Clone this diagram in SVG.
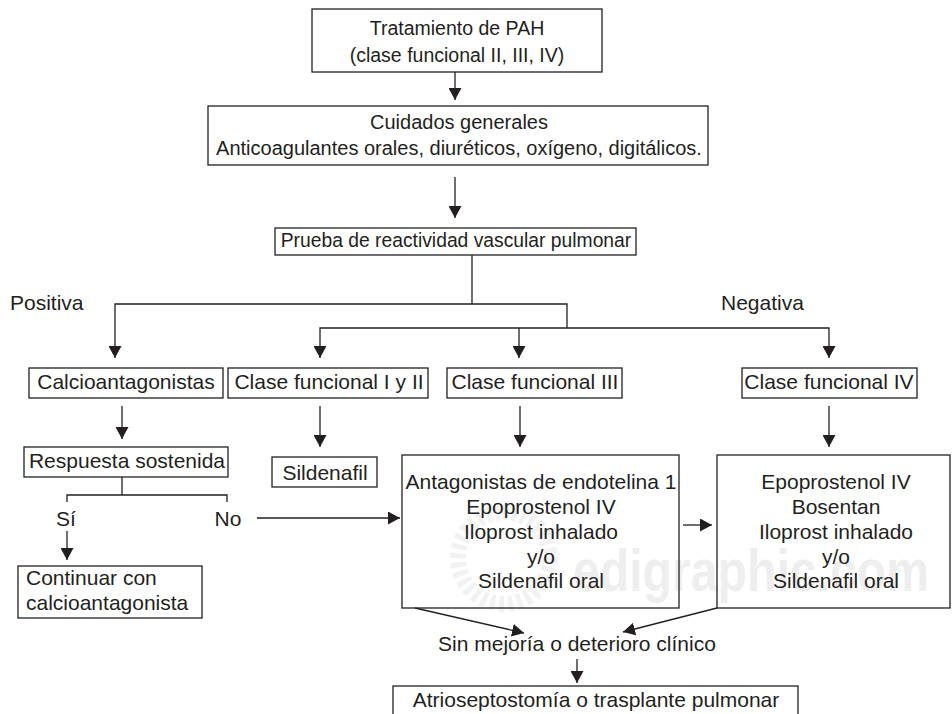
<svg xmlns="http://www.w3.org/2000/svg" width="952" height="714" viewBox="0 0 952 714">
<style>
text{font-family:"Liberation Sans",Arial,sans-serif;font-size:21px;fill:#231f20}
.c{text-anchor:middle}
.box{fill:none;stroke:#231f20;stroke-width:1.3}
.ln{fill:none;stroke:#231f20;stroke-width:1.3}
.wm{font-size:60px;font-weight:bold;fill:#eeeeee}
</style>
<defs>
<marker id="ah" markerUnits="userSpaceOnUse" markerWidth="13" markerHeight="13" refX="12" refY="6.5" orient="auto">
<path d="M0,0 L12,6.5 L0,13 z" fill="#231f20"/>
</marker>
</defs>
<rect x="0" y="0" width="952" height="714" fill="#fff"/>
<g id="watermark">
<circle cx="504" cy="558" r="46" fill="none" stroke="#f2f2f2" stroke-width="16" stroke-dasharray="5 4"/>
<text class="wm" x="573" y="591" textLength="356" lengthAdjust="spacingAndGlyphs">edigraphic.com</text>
</g>
<g id="connectors">
<path class="ln" d="M455,72 V100" marker-end="url(#ah)"/>
<path class="ln" d="M455,177 V218" marker-end="url(#ah)"/>
<path class="ln" d="M472,255 V304"/>
<path class="ln" d="M567,328 V304 H115 V358" marker-end="url(#ah)"/>
<path class="ln" d="M567,328 H320 V358" marker-end="url(#ah)"/>
<path class="ln" d="M567,328 H829 V358" marker-end="url(#ah)"/>
<path class="ln" d="M519,328 V358" marker-end="url(#ah)"/>
<path class="ln" d="M122,406 V439" marker-end="url(#ah)"/>
<path class="ln" d="M320,406 V447" marker-end="url(#ah)"/>
<path class="ln" d="M520,406 V447" marker-end="url(#ah)"/>
<path class="ln" d="M829,406 V447" marker-end="url(#ah)"/>
<path class="ln" d="M122,477 V495"/>
<path class="ln" d="M67,502 V495 H227 V502"/>
<path class="ln" d="M67,531 V560" marker-end="url(#ah)"/>
<path class="ln" d="M257,518 H400" marker-end="url(#ah)"/>
<path class="ln" d="M683,525 H712" marker-end="url(#ah)"/>
<path class="ln" d="M415,608 L524,633" marker-end="url(#ah)"/>
<path class="ln" d="M717,608 L623,632" marker-end="url(#ah)"/>
<path class="ln" d="M577,659 V683" marker-end="url(#ah)"/>
</g>
<g id="n-tratamiento">
<rect class="box" x="312" y="9" width="290" height="63"/>
<text class="c" x="457" y="35" style="font-size:19.5px">Tratamiento de PAH</text>
<text class="c" x="457" y="62" style="font-size:19.5px">(clase funcional II, III, IV)</text>
</g>
<g id="n-cuidados">
<rect class="box" x="208" y="106" width="500" height="59"/>
<text class="c" x="459" y="129" style="font-size:20px">Cuidados generales</text>
<text class="c" x="459" y="155" style="font-size:20px">Anticoagulantes orales, diuréticos, oxígeno, digitálicos.</text>
</g>
<g id="n-prueba">
<rect class="box" x="275" y="228" width="361" height="27"/>
<text class="c" x="456" y="247" style="font-size:19.3px">Prueba de reactividad vascular pulmonar</text>
</g>
<g id="l-positiva"><text x="10" y="310">Positiva</text></g>
<g id="l-negativa"><text x="721" y="310">Negativa</text></g>
<g id="n-calcio">
<rect class="box" x="29" y="368" width="194" height="30"/>
<text class="c" x="126" y="389">Calcioantagonistas</text>
</g>
<g id="n-clase12">
<rect class="box" x="228" y="368" width="200" height="30"/>
<text class="c" x="329" y="389">Clase funcional I y II</text>
</g>
<g id="n-clase3">
<rect class="box" x="447" y="368" width="175" height="30"/>
<text class="c" x="535" y="389">Clase funcional III</text>
</g>
<g id="n-clase4">
<rect class="box" x="742" y="368" width="175" height="30"/>
<text class="c" x="829" y="389">Clase funcional IV</text>
</g>
<g id="n-respuesta">
<rect class="box" x="24" y="447" width="204" height="30"/>
<text class="c" x="127" y="468">Respuesta sostenida</text>
</g>
<g id="l-si"><text class="c" x="66" y="526">Sí</text></g>
<g id="l-no"><text class="c" x="228" y="526">No</text></g>
<g id="n-continuar">
<rect class="box" x="18" y="566" width="184" height="52"/>
<text x="26" y="585">Continuar con</text>
<text x="26" y="610">calcioantagonista</text>
</g>
<g id="n-sildenafil">
<rect class="box" x="272" y="457" width="105" height="30"/>
<text class="c" x="325" y="480">Sildenafil</text>
</g>
<g id="n-tx3">
<rect class="box" x="402" y="455" width="277" height="153"/>
<text class="c" x="541" y="489">Antagonistas de endotelina 1</text>
<text class="c" x="541" y="514">Epoprostenol IV</text>
<text class="c" x="541" y="539">Iloprost inhalado</text>
<text class="c" x="541" y="564">y/o</text>
<text class="c" x="541" y="588">Sildenafil oral</text>
</g>
<g id="n-tx4">
<rect class="box" x="717" y="455" width="233" height="153"/>
<text class="c" x="836" y="489">Epoprostenol IV</text>
<text class="c" x="836" y="514">Bosentan</text>
<text class="c" x="836" y="539">Iloprost inhalado</text>
<text class="c" x="836" y="564">y/o</text>
<text class="c" x="836" y="588">Sildenafil oral</text>
</g>
<g id="l-sinmejoria"><text class="c" x="577" y="651">Sin mejoría o deterioro clínico</text></g>
<g id="n-atrio">
<rect class="box" x="393" y="686" width="405" height="40"/>
<text class="c" x="596" y="707">Atrioseptostomía o trasplante pulmonar</text>
</g>
</svg>
